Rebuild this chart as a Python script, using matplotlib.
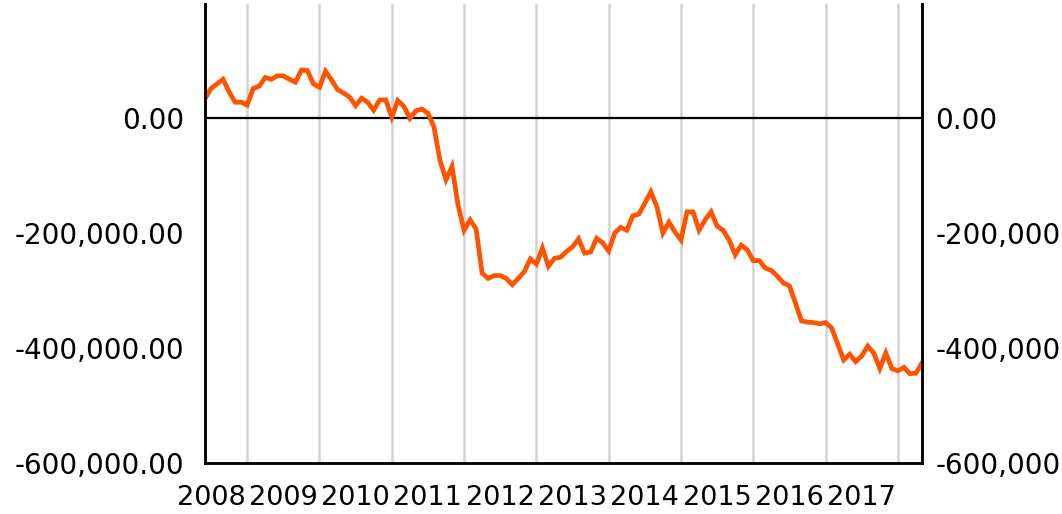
import matplotlib
matplotlib.use("Agg")
import matplotlib.pyplot as plt
from matplotlib.ticker import FuncFormatter
import numpy as np

# monthly values, Jun 2008 .. May 2018
start_year = 2008
start_month = 6
values = [
    34, 52, 60, 68, 46, 28, 28, 23, 52, 56,
    71, 68, 74, 74, 68, 63, 84, 83, 60, 54,
    82, 67, 50, 44, 37, 22, 35, 28, 14, 32,
    32, 2, 31, 21, 0, 13, 16, 9, -15, -73,
    -107, -84, -151, -195, -177, -193, -270, -279, -274, -274,
    -279, -290, -279, -267, -245, -254, -226, -258, -244, -242,
    -232, -224, -210, -235, -233, -209, -217, -231, -200, -190,
    -195, -170, -167, -148, -128, -154, -200, -181, -198, -212,
    -163, -163, -195, -177, -163, -188, -195, -212, -238, -221,
    -229, -248, -248, -261, -265, -275, -287, -292, -322, -353,
    -355, -356, -358, -356, -365, -393, -421, -411, -424, -414,
    -397, -409, -436, -409, -436, -440, -434, -445, -444, -426,
]
values = np.array(values) * 1000.0
years = [str(y) for y in range(2008, 2018)]

x = start_year + (start_month - 1) / 12 + np.arange(len(values)) / 12

fig = plt.figure(figsize=(10.62, 5.14), dpi=100)
ax = fig.add_axes([205 / 1062, 1 - 462.7 / 514, (922 - 205) / 1062, (462.7 - 3.5) / 514])

# year gridlines
for yr in range(2009, 2019):
    ax.axvline(yr, color="#d3d3d3", lw=1.8, zorder=1)
ax.axhline(0, color="black", lw=1.6, zorder=2)

ax.plot(x, values, color="#ff5300", lw=3.4, solid_joinstyle="miter", zorder=3)

ax.set_xlim(x[0], x[-1])
ax.set_ylim(-600000, 200000)

fmt = FuncFormatter(lambda v, p: f"{v:,.2f}")
ax.set_yticks([0, -200000, -400000, -600000])
ax.yaxis.set_major_formatter(fmt)
ax.tick_params(axis="y", length=0, pad=15, labelsize=20)

ax.set_xticks(np.arange(2008.5, 2018, 1.0))
ax.set_xticklabels(years)
ax.tick_params(axis="x", length=0, pad=16, labelsize=19.5)

ax2 = ax.twinx()
ax2.set_ylim(ax.get_ylim())
ax2.set_yticks([0, -200000, -400000, -600000])
ax2.yaxis.set_major_formatter(fmt)
ax2.tick_params(axis="y", length=0, pad=9.5, labelsize=20)

for a in (ax, ax2):
    a.spines["top"].set_visible(False)
    for s in ("left", "right", "bottom"):
        a.spines[s].set_linewidth(1.8)
        a.spines[s].set_color("black")

fig.savefig("out.png", dpi=100)
